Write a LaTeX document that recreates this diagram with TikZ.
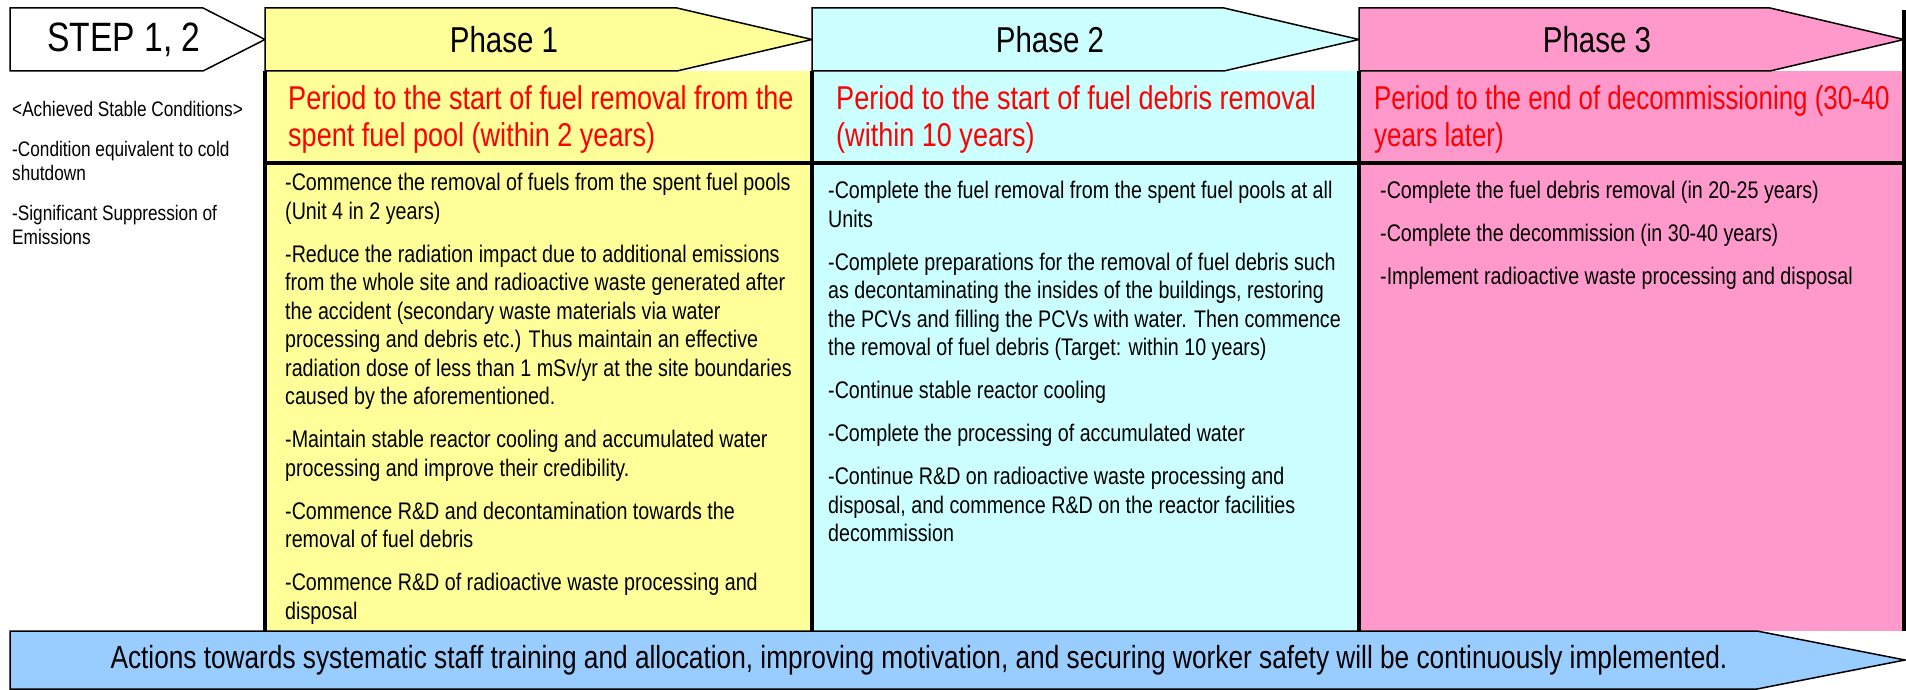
\documentclass[tikz,border=0pt]{standalone}
\usepackage{fontspec}
\setmainfont{Liberation Sans}[FakeStretch=0.82]
\newfontfamily\tighter{Liberation Sans}[FakeStretch=0.785]
\definecolor{yel}{HTML}{FFFF99}
\definecolor{cyn}{HTML}{CCFFFF}
\definecolor{pnk}{HTML}{FF99CC}
\definecolor{blu}{HTML}{99CCFF}
\begin{document}
\begin{tikzpicture}[x=1pt,y=-1pt,
  outline/.style={draw=black,line width=1.5pt},
  heavy/.style={draw=black,line width=4pt},
  hdr/.style={font=\fontsize{36}{40}\selectfont},
  period/.style={anchor=north west,inner sep=0,align=left,text=red,font=\fontsize{33}{37}\selectfont},
  body/.style={anchor=north west,inner sep=0,align=left,font=\fontsize{24}{28.5}\selectfont},
  note/.style={anchor=north west,inner sep=0,align=left,font=\fontsize{21}{24}\selectfont}]
\useasboundingbox (0,0) rectangle (1906,690);
\fill[yel] (265,71) rectangle (812,631);
\fill[cyn] (812,71) rectangle (1359,631);
\fill[pnk] (1359,71) rectangle (1904,631);
\draw[outline,fill=white] (10,8) -- (203,8) -- (265,39.5) -- (203,71) -- (10,71) -- cycle;
\draw[outline,fill=yel] (265,8) -- (677,8) -- (812,39.5) -- (677,71) -- (265,71) -- cycle;
\draw[outline,fill=cyn] (812,8) -- (1224,8) -- (1359,39.5) -- (1224,71) -- (812,71) -- cycle;
\draw[outline,fill=pnk] (1359,8) -- (1770,8) -- (1904,39.5) -- (1770,71) -- (1359,71) -- cycle;
\draw[heavy] (265,71) -- (265,631) (812,71) -- (812,631) (1359,71) -- (1359,631)
  (1904,10) -- (1904,631) (265,163) -- (1904,163);
\draw[outline,fill=blu] (10,631) -- (1757,631) -- (1905,660) -- (1757,689) -- (10,689) -- cycle;

\node[hdr,font=\fontsize{41}{44}\selectfont] (step) at (124,39.5) {STEP 1, 2};
\node[hdr] (ph1) at (504,39.5) {Phase 1};
\node[hdr] (ph2) at (1050,39.5) {Phase 2};
\node[hdr] (ph3) at (1597,39.5) {Phase 3};

\node[note] (cond) at (12,101.5) {<Achieved Stable Conditions>\\[16pt]
  -Condition equivalent to cold\\shutdown\\[16pt]
  -Significant Suppression of\\Emissions};

\node[period] (per1) at (288,85) {Period to the start of fuel removal from the\\spent fuel pool (within 2 years)};
\node[period] (per2) at (836,85) {Period to the start of fuel debris removal\\(within 10 years)};
\node[period,font=\tighter\fontsize{33}{37}\selectfont] (per3) at (1374,85) {Period to the end of decommissioning (30-40\\years later)};

\node[body] (task1) at (285,173) {-Commence the removal of fuels from the spent fuel pools\\(Unit 4 in 2 years)\\[14.5pt]
  -Reduce the radiation impact due to additional emissions\\from the whole site and radioactive waste generated after\\
  the accident (secondary waste materials via water\\processing and debris etc.) Thus maintain an effective\\
  radiation dose of less than 1 mSv/yr at the site boundaries\\caused by the aforementioned.\\[14.5pt]
  -Maintain stable reactor cooling and accumulated water\\processing and improve their credibility.\\[14.5pt]
  -Commence R\&D and decontamination towards the\\removal of fuel debris\\[14.5pt]
  -Commence R\&D of radioactive waste processing and\\disposal};
\node[body] (task2) at (828,181) {-Complete the fuel removal from the spent fuel pools at all\\Units\\[14.5pt]
  -Complete preparations for the removal of fuel debris such\\as decontaminating the insides of the buildings, restoring\\
  the PCVs and filling the PCVs with water. Then commence\\the removal of fuel debris (Target: within 10 years)\\[14.5pt]
  -Continue stable reactor cooling\\[14.5pt]
  -Complete the processing of accumulated water\\[14.5pt]
  -Continue R\&D on radioactive waste processing and\\disposal, and commence R\&D on the reactor facilities\\decommission};
\node[body] (task3) at (1380,181) {-Complete the fuel debris removal (in 20-25 years)\\[14.5pt]
  -Complete the decommission (in 30-40 years)\\[14.5pt]
  -Implement radioactive waste processing and disposal};

\node[font=\fontsize{32}{36}\selectfont] (staff) at (919,660) {Actions towards systematic staff training and allocation, improving motivation, and securing worker safety will be continuously implemented.};
\end{tikzpicture}
\end{document}
